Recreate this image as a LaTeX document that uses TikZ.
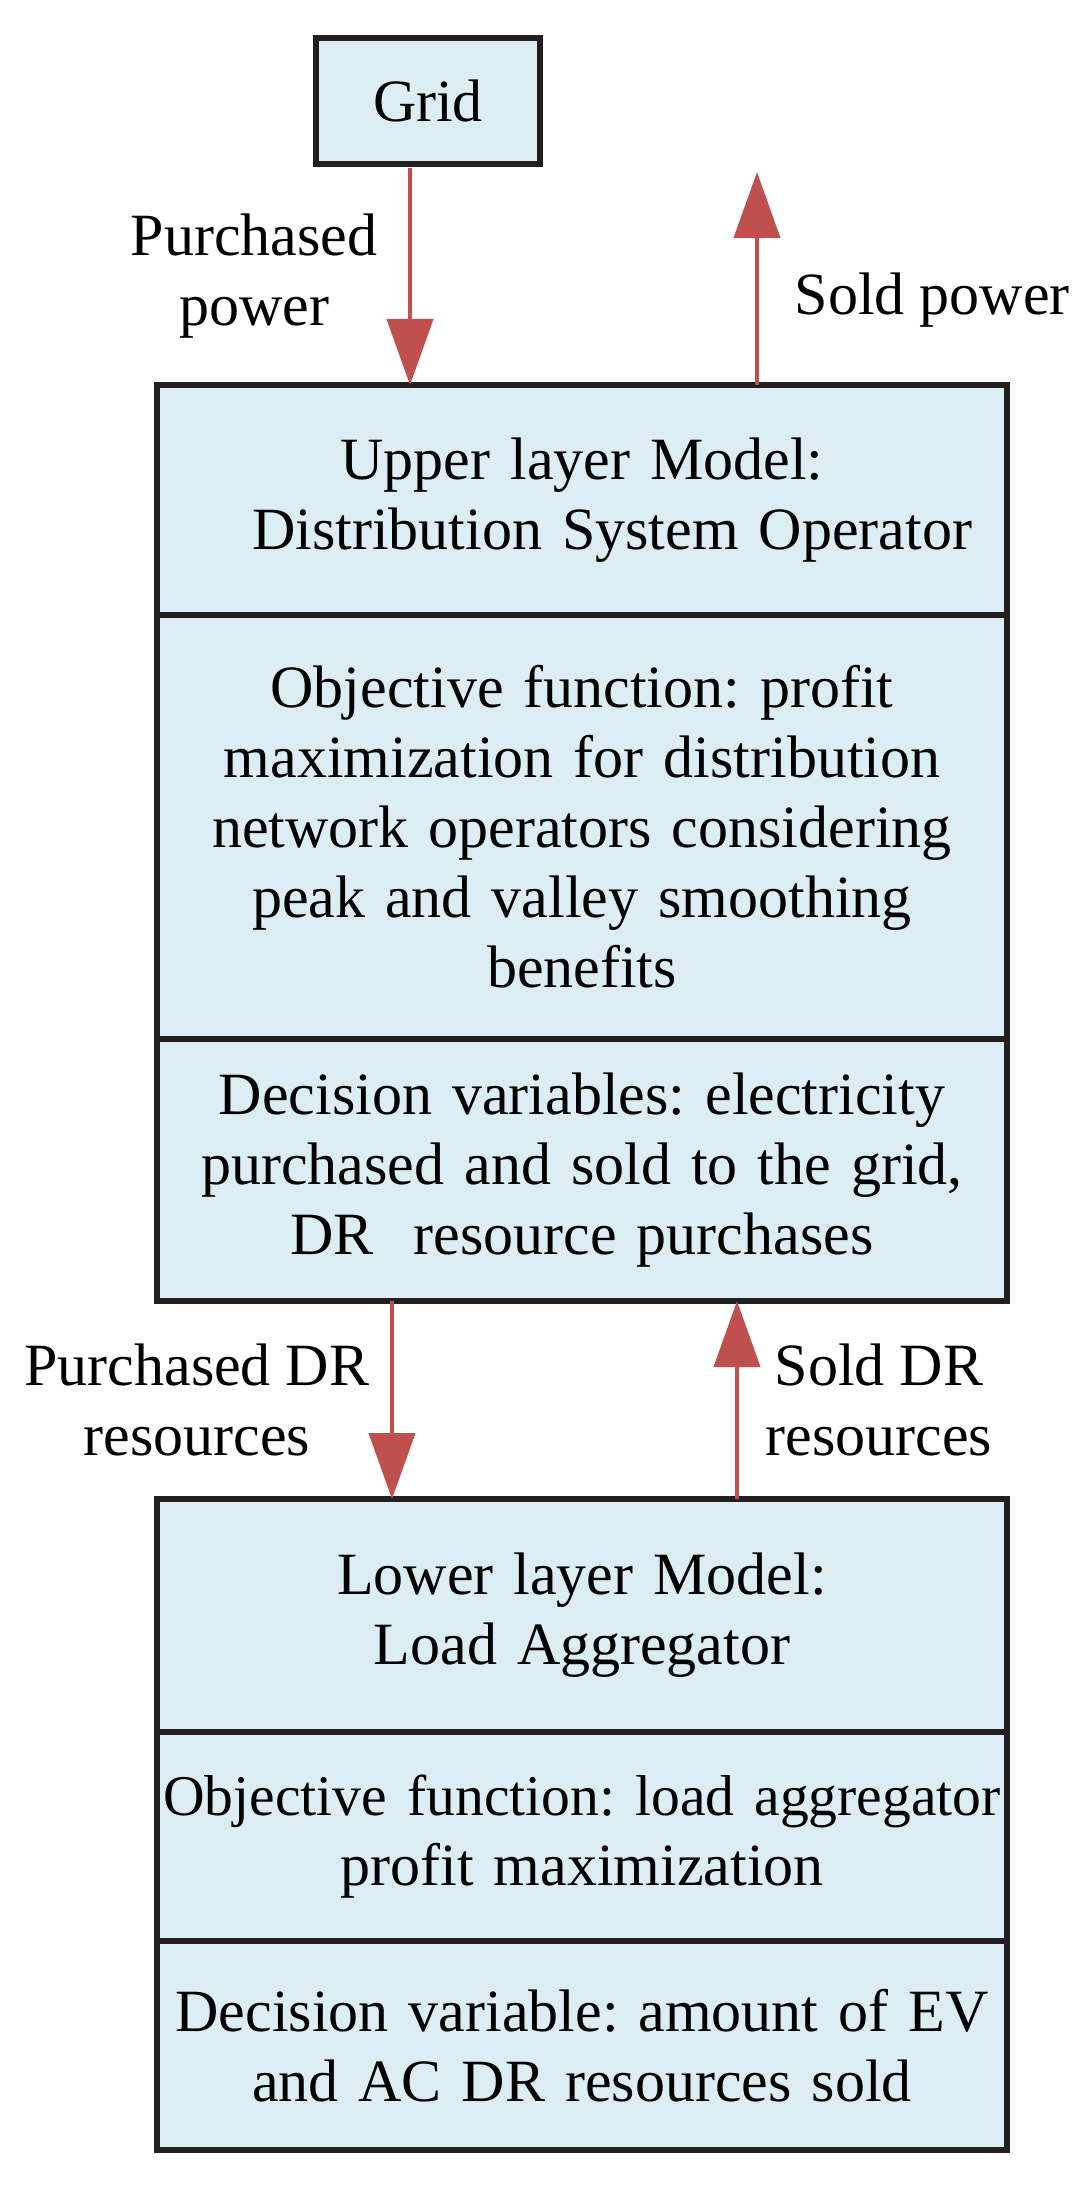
\documentclass[tikz,border=0pt]{standalone}
\usepackage{fontspec}
\setmainfont{Liberation Serif}
\frenchspacing
\usetikzlibrary{positioning,arrows.meta}
\definecolor{ink}{HTML}{231F20}
\definecolor{boxfill}{HTML}{DDEDF4}
\definecolor{arrowred}{HTML}{C0504D}
\tikzset{
  layer/.style={draw=ink,fill=boxfill,line width=3.2pt,outer sep=0pt,inner sep=0pt,text width=425pt,align=center,font=\fontsize{30}{35}\selectfont},
  gridbox/.style={layer,text width=112pt,minimum height=63pt},
  flow/.style={-{Triangle[length=33pt,width=23pt]},draw=arrowred,line width=2pt},
  lbl/.style={align=center,font=\fontsize{30}{35}\selectfont}}
\begin{document}
\begin{tikzpicture}[x=0.5pt,y=-0.5pt]
  \useasboundingbox (0,0) rectangle (1084,2193);
  \node[gridbox] (grid) at (428,101) {Grid};
  % upper layer
  \node[layer,minimum height=115pt] (upm) at (582,500) {Upper layer Model:\hspace*{78pt}\\\hspace*{30pt}Distribution System Operator};
  \node[layer,minimum height=212pt,below=0pt of upm] (upobj) {Objective function: profit\\maximization for distribution\\network operators considering\\peak and valley smoothing\\benefits};
  \node[layer,minimum height=131pt,below=0pt of upobj] (upvar) {Decision variables: electricity\\purchased and sold to the grid,\\DR~ resource purchases};
  % lower layer
  \node[layer,minimum height=116.5pt] (lowm) at (582,1615.5) {Lower layer Model:\\Load Aggregator};
  \node[layer,minimum height=104.5pt,below=0pt of lowm] (lowobj) {\makebox[\linewidth]{\fontsize{28.8}{35}\selectfont Objective function: load aggregator}\\profit maximization};
  \node[layer,minimum height=104.5pt,below=0pt of lowobj] (lowvar) {Decision variable: amount of EV\\and AC DR resources sold};
  \coordinate (soldtop) at (757,172);
  \draw[flow] ([xshift=-9pt,yshift=-2pt]grid.south) -- node[lbl,left=12pt]{Purchased\\power} ([xshift=-86pt]upm.north);
  \draw[flow] ([xshift=87.5pt]upm.north) -- node[lbl,pos=0.4,right=14.5pt]{Sold power} (soldtop);
  \draw[flow] ([xshift=-95pt]upvar.south) -- node[lbl,left=7pt]{Purchased DR\\resources} ([xshift=-95pt]lowm.north);
  \draw[flow] ([xshift=77.5pt]lowm.north) -- node[lbl,right=10pt]{Sold DR\\resources} ([xshift=77.5pt]upvar.south);
\end{tikzpicture}
\end{document}
